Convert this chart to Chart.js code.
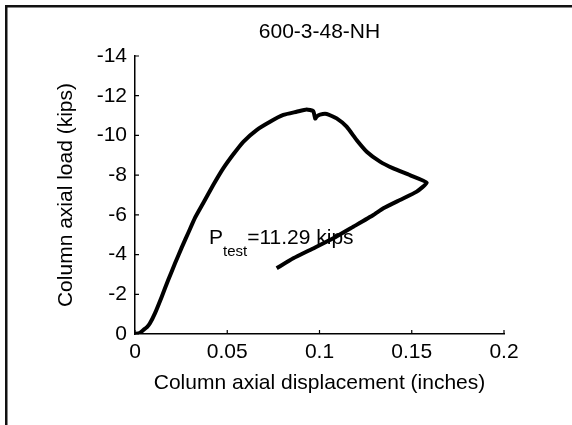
<!DOCTYPE html>
<html>
<head>
<meta charset="utf-8">
<script src="https://cdn.jsdelivr.net/npm/chart.js@4"></script>
<style>
  html, body { margin: 0; padding: 0; background: #fff; }
  #wrap { width: 572px; height: 425px; }
</style>
</head>
<body>
<div id="wrap"><canvas id="loadChart" width="572" height="425"></canvas></div>
<script>
// displacement (inches) and axial load (kips)
var dispInches = [0, 0.0025, 0.0045, 0.0065, 0.0081, 0.0108, 0.0145, 0.018, 0.0217, 0.0253,
  0.0289, 0.0325, 0.037, 0.0424, 0.0479, 0.0533, 0.0587, 0.0659, 0.0732, 0.0804,
  0.0876, 0.093, 0.0966, 0.0977, 0.0985, 0.1003, 0.1039, 0.1093, 0.1147, 0.1201,
  0.1256, 0.1328, 0.14, 0.149, 0.1581, 0.1527, 0.1436, 0.1346, 0.1292, 0.1183,
  0.1075, 0.0966, 0.0858, 0.0768];
var loadKips = [0, -0.05, -0.2, -0.35, -0.54, -1.04, -1.88, -2.72, -3.56, -4.35,
  -5.1, -5.85, -6.6, -7.5, -8.35, -9.05, -9.68, -10.27, -10.69, -11.03,
  -11.19, -11.31, -11.22, -10.85, -10.95, -11.05, -11.08, -10.86, -10.44, -9.77,
  -9.18, -8.68, -8.34, -8.0, -7.62, -7.17, -6.75, -6.33, -5.99, -5.4,
  -4.82, -4.31, -3.81, -3.31];
var xTicks = [0, 0.05, 0.1, 0.15, 0.2];
var yTicks = [-14, -12, -10, -8, -6, -4, -2, 0];
var specimen = '600-3-48-NH';
var peakLoad = 11.29;

var FONT = "'Liberation Sans', Arial, Helvetica, sans-serif";

var points = dispInches.map(function (d, i) { return { x: d, y: loadKips[i] }; });

// outer frame (left + top), title, inward tick marks, P_test note
var framePlugin = {
  id: 'frame',
  afterDraw: function (chart) {
    var ctx = chart.ctx;
    var xs = chart.scales.x, ys = chart.scales.y;
    var area = chart.chartArea;
    ctx.save();
    ctx.strokeStyle = '#111';
    ctx.lineWidth = 2.5;
    ctx.beginPath();
    ctx.moveTo(6.25, 5);
    ctx.lineTo(6.25, 425);
    ctx.moveTo(5, 6.25);
    ctx.lineTo(572, 6.25);
    ctx.stroke();

    ctx.strokeStyle = '#000';
    ctx.lineWidth = 1.2;
    ctx.beginPath();
    yTicks.forEach(function (v) {
      var py = ys.getPixelForValue(v);
      ctx.moveTo(xs.left, py);
      ctx.lineTo(xs.left + 4, py);
    });
    xTicks.forEach(function (v) {
      var px = xs.getPixelForValue(v);
      ctx.moveTo(px, ys.bottom);
      ctx.lineTo(px, ys.bottom - 4);
    });
    ctx.stroke();

    ctx.fillStyle = '#000';
    ctx.textBaseline = 'middle';
    ctx.textAlign = 'center';
    ctx.font = '21px ' + FONT;
    ctx.fillText(specimen, (area.left + area.right) / 2, 32);

    var ax = xs.getPixelForValue(0.0401);
    var ay = ys.getPixelForValue(-4.83);
    ctx.textAlign = 'left';
    ctx.fillText('P', ax, ay);
    var w = ctx.measureText('P').width;
    ctx.font = '15px ' + FONT;
    ctx.fillText('test', ax + w, ay + 14);
    var w2 = ctx.measureText('test').width;
    ctx.font = '21px ' + FONT;
    ctx.fillText('=' + peakLoad.toFixed(2) + ' kips', ax + w + w2, ay);
    ctx.restore();
  }
};

var config = {
  type: 'scatter',
  data: {
    datasets: [{
      data: points,
      showLine: true,
      borderColor: '#000',
      borderWidth: 4,
      pointRadius: 0,
      tension: 0.15,
      fill: false
    }]
  },
  options: {
    responsive: false,
    animation: false,
    layout: { padding: { left: 0, right: 68, top: 56, bottom: 0 } },
    plugins: {
      legend: { display: false },
      tooltip: { enabled: false },
      title: { display: false }
    },
    scales: {
      x: {
        type: 'linear',
        min: 0,
        max: 0.2,
        afterFit: function (s) { s.height = 91; },
        afterBuildTicks: function (s) { s.ticks = xTicks.map(function (v) { return { value: v }; }); },
        ticks: {
          color: '#000',
          padding: 6,
          maxRotation: 0,
          font: { family: FONT, size: 21 },
          callback: function (v) { return String(+Number(v).toFixed(2)); }
        },
        grid: { drawOnChartArea: false, drawTicks: false },
        border: { display: true, color: '#000', width: 1.5 },
        title: {
          display: true,
          text: 'Column axial displacement (inches)',
          color: '#000',
          font: { family: FONT, size: 21 },
          padding: { top: 0, bottom: 29 }
        }
      },
      y: {
        type: 'linear',
        min: -14,
        max: 0,
        reverse: true,
        afterFit: function (s) { s.width = 135; },
        afterBuildTicks: function (s) { s.ticks = yTicks.map(function (v) { return { value: v }; }); },
        ticks: {
          color: '#000',
          padding: 8,
          font: { family: FONT, size: 21 },
          callback: function (v) { return String(v); }
        },
        grid: { drawOnChartArea: false, drawTicks: false },
        border: { display: true, color: '#000', width: 1.5 },
        title: {
          display: true,
          text: 'Column axial load (kips)',
          color: '#000',
          font: { family: FONT, size: 21 },
          padding: { top: 54, bottom: 0 }
        }
      }
    }
  },
  plugins: [framePlugin]
};

var loadChart = new Chart(document.getElementById('loadChart').getContext('2d'), config);
</script>
</body>
</html>
